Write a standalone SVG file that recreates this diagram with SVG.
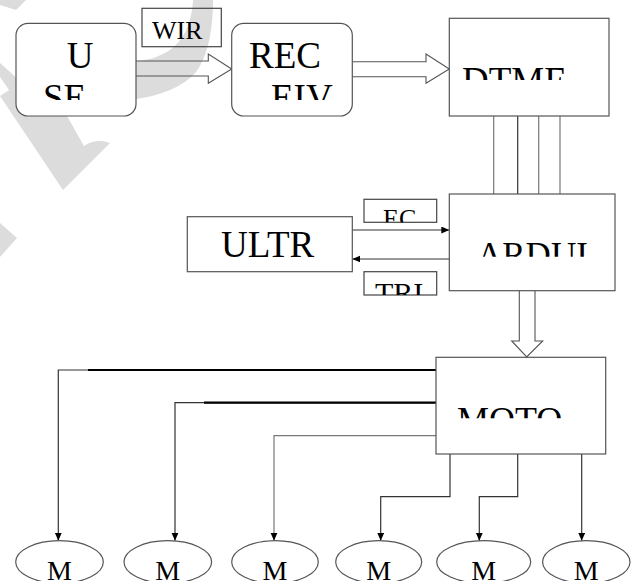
<svg xmlns="http://www.w3.org/2000/svg" width="638" height="581" viewBox="0 0 638 581">
<style>
.box{fill:#fff;stroke:#555;stroke-width:1.2}
.lbl{fill:none;stroke:#444;stroke-width:1.2}
.blk{fill:none;stroke:#555;stroke-width:1.1}
.t{font-family:"Liberation Serif","Times New Roman",serif;fill:#000}
.big{font-size:37px}
.wm{fill:#dcdcdc;stroke:none}
.ln{fill:none;stroke:#333;stroke-width:1.2}
.lg{fill:none;stroke:#777;stroke-width:1.2}
.thick{fill:none;stroke:#000;stroke-width:2.2}
</style>
<defs>
<marker id="ah" markerUnits="userSpaceOnUse" markerWidth="9" markerHeight="8" refX="8" refY="3.5" orient="auto">
<path d="M0,0 L8,3.5 L0,7 Z" fill="#000"/>
</marker>
<clipPath id="cUSE"><rect x="16" y="23" width="120" height="77"/></clipPath>
<clipPath id="cREC"><rect x="232" y="23" width="121" height="77"/></clipPath>
<clipPath id="cDTMF"><rect x="449" y="18" width="160" height="62"/></clipPath>
<clipPath id="cARD"><rect x="449" y="194" width="166" height="62.7"/></clipPath>
<clipPath id="cMOTO"><rect x="436" y="357" width="170" height="61.3"/></clipPath>
<clipPath id="cEC"><rect x="364" y="199" width="73" height="23.3"/></clipPath>
<clipPath id="cTRI"><rect x="364" y="271" width="73" height="24"/></clipPath>
</defs>
<rect width="638" height="581" fill="#fff"/>
<g id="watermark">
<polygon class="wm" points="0,0 26,0 16,10 0,5"/>
<polygon class="wm" points="0,63 30,90 30,120 0,77"/>
<path class="wm" d="M0,96 L40,70 L67,116 L84,146 Q96,138 110,143 L63,190 Z"/>
<path class="wm" d="M193,0 C192,20 186,38 170,50 C158,58 145,61 130,62 L130,100 C160,96 182,88 196,72 C208,56 213,30 213,0 Z"/>
<polygon class="wm" points="0,223 17,238 0,257"/>
</g>
<g id="connectors">
<path class="blk" d="M135.7,61 H208.3 V54 L231.7,69 L208.3,83.3 V76 H135.7"/>
<path class="blk" d="M352.3,61.7 H426 V54 L449.3,69 L426,83.3 V76.7 H352.3"/>
<path class="blk" d="M519.3,290.7 V341 H511.7 L526.7,357 L542.7,341 H535 V290.7"/>
<line class="lg" x1="493.7" y1="116" x2="493.7" y2="194"/>
<line class="ln" x1="517.7" y1="116" x2="517.7" y2="194"/>
<line class="lg" x1="538.7" y1="116" x2="538.7" y2="194"/>
<line class="lg" x1="560" y1="116" x2="560" y2="194"/>
<path class="ln" d="M352.3,230 H449.3" marker-end="url(#ah)"/>
<path class="ln" d="M449.3,259 H352.3" marker-end="url(#ah)"/>
<path class="ln" d="M436,370 H58.3 V540.7" marker-end="url(#ah)"/>
<path class="thick" d="M88,370 H436"/>
<path class="ln" d="M436,402.7 H175 V540.7" marker-end="url(#ah)"/>
<path class="thick" d="M204,402.7 H436"/>
<path class="lg" d="M436,435.7 H274 V540.7" marker-end="url(#ah)"/>
<path class="ln" d="M450,454 V496.7 H380.7 V540.7" marker-end="url(#ah)"/>
<path class="ln" d="M517.7,454 V496.7 H479.3 V540.7" marker-end="url(#ah)"/>
<path class="ln" d="M581.7,454 V540.7" marker-end="url(#ah)"/>
</g>
<g id="use">
<rect class="box" x="16" y="23.3" width="120" height="92.7" rx="12"/>
<g clip-path="url(#cUSE)">
<text class="t big" x="80" y="68" text-anchor="middle">U</text>
<text class="t big" x="43" y="109.5">SE</text>
</g>
</g>
<g id="wir">
<rect class="lbl" x="142" y="8.3" width="79.3" height="38.4"/>
<text class="t" x="152" y="39.3" font-size="26">WIR</text>
</g>
<g id="rec">
<rect class="box" x="231.7" y="23.3" width="120.6" height="92.7" rx="12"/>
<g clip-path="url(#cREC)">
<text class="t big" x="249" y="68">REC</text>
<text class="t big" x="271" y="110">EIV</text>
</g>
</g>
<g id="dtmf">
<rect class="box" x="449.3" y="18.3" width="159.7" height="97.7"/>
<text class="t big" x="462" y="93" clip-path="url(#cDTMF)">DTMF</text>
</g>
<g id="ardui">
<rect class="box" x="449.3" y="194" width="165.7" height="96.7"/>
<text class="t" x="477" y="266.5" font-size="35" clip-path="url(#cARD)">ARDUI</text>
</g>
<g id="ultr">
<rect class="box" x="187.3" y="216.7" width="165" height="55"/>
<text class="t big" x="221" y="256.7">ULTR</text>
</g>
<g id="ec">
<rect class="lbl" x="364" y="199.3" width="72.7" height="23"/>
<text class="t" x="383" y="227" font-size="26" clip-path="url(#cEC)">EC</text>
</g>
<g id="tri">
<rect class="lbl" x="364" y="271.7" width="72.7" height="23.3"/>
<text class="t" x="375" y="303" font-size="30" clip-path="url(#cTRI)">TRI</text>
</g>
<g id="moto">
<rect class="box" x="436" y="357.3" width="169.7" height="96.7"/>
<text class="t" x="457" y="432" font-size="36" clip-path="url(#cMOTO)">MOTO</text>
</g>
<g id="m1"><ellipse class="box" cx="59.5" cy="562" rx="43.8" ry="21.3"/><text class="t" x="59.5" y="579.5" font-size="28" text-anchor="middle">M</text></g>
<g id="m2"><ellipse class="box" cx="167.8" cy="562" rx="43.8" ry="21.3"/><text class="t" x="167.8" y="579.5" font-size="28" text-anchor="middle">M</text></g>
<g id="m3"><ellipse class="box" cx="275" cy="562" rx="43.3" ry="21.3"/><text class="t" x="275" y="579.5" font-size="28" text-anchor="middle">M</text></g>
<g id="m4"><ellipse class="box" cx="378.7" cy="562" rx="43" ry="21.3"/><text class="t" x="378.7" y="579.5" font-size="28" text-anchor="middle">M</text></g>
<g id="m5"><ellipse class="box" cx="483.7" cy="562" rx="47" ry="21.3"/><text class="t" x="483.7" y="579.5" font-size="28" text-anchor="middle">M</text></g>
<g id="m6"><ellipse class="box" cx="586.3" cy="562" rx="43.7" ry="21.3"/><text class="t" x="586.3" y="579.5" font-size="28" text-anchor="middle">M</text></g>
</svg>
